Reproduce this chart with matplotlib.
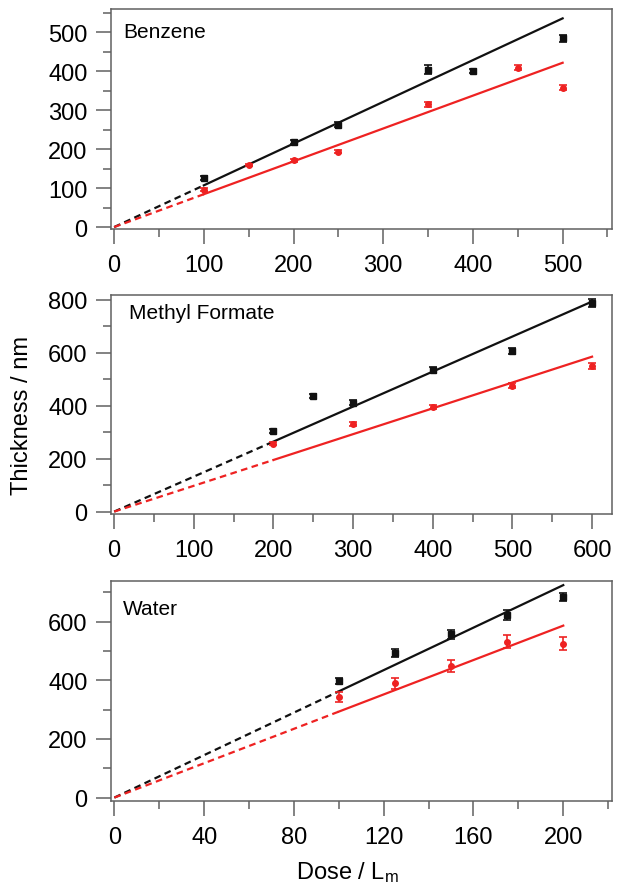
"""
plot.py
Film thickness vs. dose for benzene, methyl formate and water (two series each).
"""
import numpy as np
import matplotlib
matplotlib.use("Agg")
import matplotlib.pyplot as plt
from matplotlib.ticker import MultipleLocator

plt.rcParams['font.family'] = ['Liberation Sans', 'DejaVu Sans']
plt.rcParams['mathtext.fontset'] = 'custom'
plt.rcParams['mathtext.rm'] = 'Liberation Sans'
plt.rcParams['mathtext.it'] = 'Liberation Sans:italic'

BLACK = '#111111'
RED = '#ee2222'
SPINE = '#606060'

# --- Benzene ---
benz_x_black = [100, 200, 250, 350, 400, 500]
benz_y_black = [127, 219, 263, 404, 401, 485]
benz_e_black = [5, 5, 6, 12, 6, 9]
benz_x_red = [100, 150, 200, 250, 350, 450, 500]
benz_y_red = [96, 159, 171, 193, 315, 409, 358]
benz_e_red = [4, 3, 4, 4, 6, 6, 6]
benz_slopes = [1.072, 0.844]      # black, red fit (through origin)
benz_fit_range = [100, 500]

# --- Methyl formate ---
mf_x_black = [200, 250, 300, 400, 500, 600]
mf_y_black = [304, 436, 411, 535, 606, 786]
mf_e_black = [8, 7, 10, 10, 12, 15]
mf_x_red = [200, 300, 400, 500, 600]
mf_y_red = [257, 331, 395, 475, 550]
mf_e_red = [7, 6, 7, 10, 10]
mf_slopes = [1.322, 0.975]
mf_fit_range = [200, 600]

# --- Water ---
wat_x_black = [100, 125, 150, 175, 200]
wat_y_black = [397, 492, 556, 622, 683]
wat_e_black = [11, 13, 15, 16, 13]
wat_x_red = [100, 125, 150, 175, 200]
wat_y_red = [343, 389, 448, 531, 525]
wat_e_red = [17, 18, 20, 22, 22]
wat_slopes = [3.62, 2.93]
wat_fit_range = [100, 200]

panels = [
    dict(name='Benzene', xb=benz_x_black, yb=benz_y_black, eb=benz_e_black,
         xr=benz_x_red, yr=benz_y_red, er=benz_e_red, slopes=benz_slopes,
         fit=benz_fit_range, xlim=(-3.5, 555), ylim=(-5, 560),
         xmaj=100, xmin=50, ymaj=100, ymin=50, rect=[0.1737, 0.743, 0.784, 0.2458],
         label_pos=(0.024, 0.94)),
    dict(name='Methyl Formate', xb=mf_x_black, yb=mf_y_black, eb=mf_e_black,
         xr=mf_x_red, yr=mf_y_red, er=mf_e_red, slopes=mf_slopes,
         fit=mf_fit_range, xlim=(-4, 625), ylim=(-9, 818),
         xmaj=100, xmin=50, ymaj=200, ymin=100, rect=[0.1737, 0.4246, 0.784, 0.2447],
         label_pos=(0.036, 0.965)),
    dict(name='Water', xb=wat_x_black, yb=wat_y_black, eb=wat_e_black,
         xr=wat_x_red, yr=wat_y_red, er=wat_e_red, slopes=wat_slopes,
         fit=wat_fit_range, xlim=(-1.5, 221.7), ylim=(-11.6, 738),
         xmaj=40, xmin=20, ymaj=200, ymin=100, rect=[0.1737, 0.1039, 0.784, 0.2458],
         label_pos=(0.024, 0.92)),
]

fig = plt.figure(figsize=(6.39, 8.95), dpi=100)

for p in panels:
    ax = fig.add_axes(p['rect'])
    # fit lines: dashed extrapolation to origin, solid over the data range
    for slope, color in zip(p['slopes'], [BLACK, RED]):
        x_dash = np.array([0, p['fit'][0]])
        x_solid = np.array(p['fit'])
        ax.plot(x_dash, slope * x_dash, color=color, lw=1.6, ls=(0, (3, 2)))
        ax.plot(x_solid, slope * x_solid, color=color, lw=1.6)
    ax.errorbar(p['xb'], p['yb'], yerr=p['eb'], fmt='s', color=BLACK, ms=4,
                capsize=3, elinewidth=1.2, capthick=1.2)
    ax.errorbar(p['xr'], p['yr'], yerr=p['er'], fmt='o', color=RED, ms=4,
                capsize=3, elinewidth=1.2, capthick=1.2)

    ax.set_xlim(*p['xlim'])
    ax.set_ylim(*p['ylim'])
    ax.xaxis.set_major_locator(MultipleLocator(p['xmaj']))
    ax.xaxis.set_minor_locator(MultipleLocator(p['xmin']))
    ax.yaxis.set_major_locator(MultipleLocator(p['ymaj']))
    ax.yaxis.set_minor_locator(MultipleLocator(p['ymin']))
    ax.tick_params(which='major', length=11, width=1.1, color=SPINE,
                   labelsize=17, pad=6)
    ax.tick_params(which='minor', length=5.5, width=1.1, color=SPINE)
    ax.tick_params(axis='x', which='major', pad=7)
    for s in ax.spines.values():
        s.set_color(SPINE)
        s.set_linewidth(1.1)
    ax.text(*p['label_pos'], p['name'], transform=ax.transAxes,
            fontsize=15, va='top', ha='left')

fig.text(0.035, 0.536, 'Thickness / nm', rotation=90, fontsize=17,
         ha='center', va='center')
fig.text(0.543, 0.025, r'Dose / L$_\mathrm{m}$', fontsize=17,
         ha='center', va='center')

fig.savefig('out.png', dpi=100)
